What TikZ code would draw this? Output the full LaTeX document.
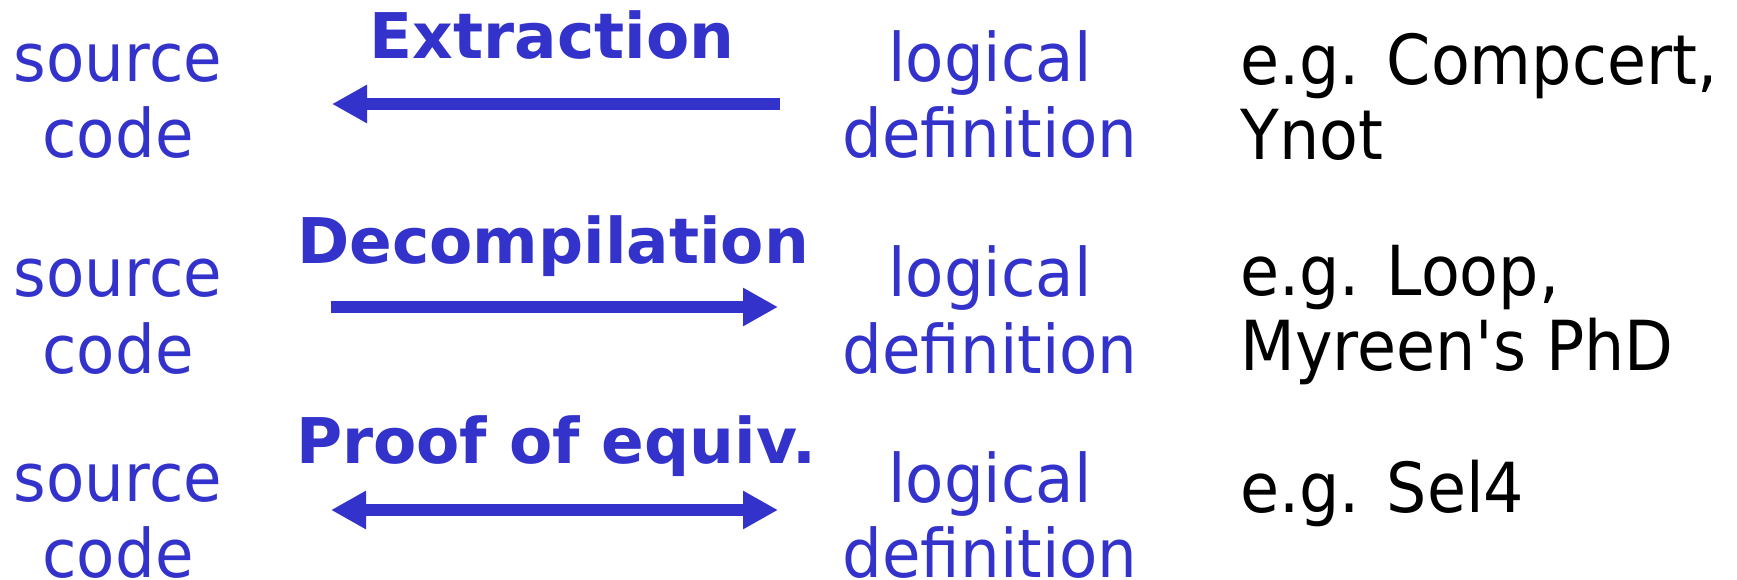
\documentclass[tikz,border=0pt]{standalone}
\usepackage{fontspec}
\setmainfont{DejaVu Sans}
\newfontfamily\labfont[FakeStretch=0.935]{DejaVu Sans}
\newfontfamily\blackfont[FakeStretch=0.92]{DejaVu Sans}
\newfontfamily\boldlab{DejaVu Sans Bold}
\usetikzlibrary{arrows.meta}
\definecolor{myblue}{RGB}{51,51,204}
\tikzset{
  bluetxt/.style={anchor=base, inner sep=0pt, text=myblue, font=\labfont\fontsize{67}{76}\selectfont},
  blacktxt/.style={anchor=base west, inner sep=0pt, text=black, font=\blackfont\fontsize{69}{76}\selectfont},
  boldtxt/.style={anchor=base, inner sep=0pt, text=myblue, font=\boldlab\fontsize{63}{70}\selectfont},
  arr/.style={draw=myblue, line width=12pt, -{Triangle[length=35pt,width=36pt]}},
  arrboth/.style={draw=myblue, line width=12pt, {Triangle[length=35pt,width=36pt]}-{Triangle[length=35pt,width=36pt]}}
}
\begin{document}
\begin{tikzpicture}[x=1pt,y=-1pt]
\useasboundingbox (0,0) rectangle (1737,580);
% row 1
\node[bluetxt] (s1a) at (118,82) {source};
\node[bluetxt] (s1b) at (118,158) {code};
\node[bluetxt] (l1a) at (990,82) {logical};
\node[bluetxt] (l1b) at (990,158) {definition};
\node[boldtxt] (t1) at (552,59) {Extraction};
\node[blacktxt] (e1a) at (1240,85) {e.g. Compcert,};
\node[blacktxt] (e1b) at (1240,160) {Ynot};
\coordinate (a1s) at (780,104);
\coordinate (a1e) at (332,104);
\draw[arr] (a1s) -- (a1e);
% row 2
\node[bluetxt] (s2a) at (118,296) {source};
\node[bluetxt] (s2b) at (118,373) {code};
\node[bluetxt] (l2a) at (990,296) {logical};
\node[bluetxt] (l2b) at (990,373) {definition};
\node[boldtxt] (t2) at (553,263) {Decompilation};
\node[blacktxt] (e2a) at (1240,295) {e.g. Loop,};
\node[blacktxt] (e2b) at (1240,370) {Myreen's PhD};
\coordinate (a2s) at (331,307);
\coordinate (a2e) at (778,307);
\draw[arr] (a2s) -- (a2e);
% row 3
\node[bluetxt] (s3a) at (118,501) {source};
\node[bluetxt] (s3b) at (118,577) {code};
\node[bluetxt] (l3a) at (990,502) {logical};
\node[bluetxt] (l3b) at (990,577) {definition};
\node[boldtxt] (t3) at (556,463) {Proof of equiv.};
\node[blacktxt] (e3a) at (1240,512) {e.g. Sel4};
\coordinate (a3s) at (331,510);
\coordinate (a3e) at (778,510);
\draw[arrboth] (a3s) -- (a3e);
\end{tikzpicture}
\end{document}
